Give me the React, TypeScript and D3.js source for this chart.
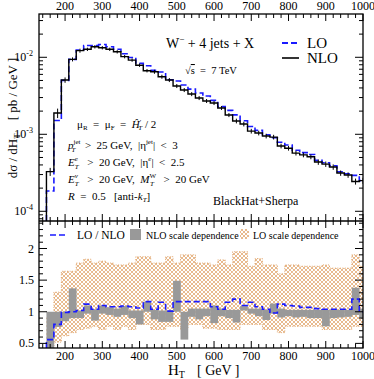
import React from 'react';
import * as d3 from 'd3';

// bins: 20 GeV wide starting at 150 GeV (the last one is clipped at 1000)
const binEdges = d3.range(150, 1011, 20);

// NLO dσ/dHT [pb/GeV], one value per bin
const nlo = [
  3.27e-4, 1.89e-3, 5.07e-3, 9.4e-3, 1.22e-2, 1.27e-2, 1.37e-2, 1.33e-2, 1.27e-2, 1.18e-2,
  1.02e-2, 9.2e-3, 7.9e-3, 6.7e-3, 6.5e-3, 5.6e-3, 5.07e-3, 4.24e-3, 3.76e-3, 3.33e-3,
  2.96e-3, 2.71e-3, 2.55e-3, 2.2e-3, 1.78e-3, 1.49e-3, 1.36e-3, 1.1e-3, 1.04e-3, 9.5e-4,
  9.2e-4, 7.05e-4, 6.6e-4, 5.7e-4, 5.4e-4, 5.1e-4, 4.36e-4, 4.1e-4, 3.76e-4, 3.14e-4,
  2.96e-4, 2.44e-4, 2.5e-4,
];
// relative statistical error of NLO
const nloErr = [
  0.12, 0.14, 0.08, 0.06, 0.06, 0.05, 0.05, 0.05, 0.05, 0.05,
  0.05, 0.05, 0.05, 0.05, 0.06, 0.06, 0.06, 0.06, 0.06, 0.06,
  0.06, 0.06, 0.06, 0.06, 0.06, 0.07, 0.07, 0.07, 0.07, 0.07,
  0.07, 0.07, 0.07, 0.07, 0.07, 0.07, 0.08, 0.08, 0.08, 0.08,
  0.08, 0.09, 0.09,
];
// LO / NLO ratio
const loOverNlo = [
  0.56, 0.8, 0.99, 1.0, 1.02, 1.12, 1.04, 1.1, 1.08, 1.08,
  1.09, 1.08, 1.06, 1.16, 1.04, 1.15, 1.01, 1.16, 1.16, 1.16,
  1.16, 1.16, 1.08, 1.04, 1.15, 1.2, 1.1, 1.15, 1.08, 1.04,
  0.98, 1.12, 1.1, 1.09, 1.07, 1.07, 1.05, 1.04, 1.04, 1.04,
  1.04, 1.2, 1.0,
];
// NLO scale dependence band (normalised to NLO)
const nloBandLo = [
  0.4, 0.76, 0.85, 0.9, 0.9, 0.97, 0.86, 0.97, 0.95, 0.92,
  0.95, 0.9, 0.8, 1.0, 0.88, 0.84, 0.84, 1.0, 0.56, 0.92,
  0.88, 0.93, 0.82, 0.93, 0.9, 0.83, 1.02, 0.97, 0.93, 0.87,
  0.97, 0.91, 0.93, 0.91, 0.92, 0.9, 0.9, 0.77, 0.9, 0.91,
  0.92, 0.95, 0.9,
];
const nloBandHi = [
  1.0, 1.0, 1.0, 1.37, 1.02, 1.1, 1.04, 1.1, 1.07, 1.05,
  1.09, 1.02, 1.02, 1.16, 1.03, 1.02, 1.02, 1.49, 1.0, 1.05,
  1.05, 1.05, 1.1, 1.05, 1.03, 1.03, 1.09, 1.05, 1.05, 1.03,
  1.13, 1.05, 1.03, 1.03, 1.03, 1.03, 1.03, 1.03, 1.03, 1.03,
  1.03, 1.38, 1.05,
];
// LO scale dependence band (normalised to NLO)
const loBandLo = [
  0.3, 0.52, 0.62, 0.67, 0.72, 0.74, 0.77, 0.72, 0.77, 0.72,
  0.77, 0.72, 0.8, 0.8, 0.72, 0.72, 0.77, 0.77, 0.72, 0.8,
  0.8, 0.74, 0.74, 0.72, 0.72, 0.72, 0.8, 0.8, 0.8, 0.72,
  0.72, 0.67, 0.77, 0.77, 0.77, 0.77, 0.77, 0.72, 0.72, 0.72,
  0.72, 0.77, 0.77,
];
const loBandHi = [
  0.9, 1.31, 1.64, 1.64, 1.77, 1.83, 1.77, 1.8, 1.77, 1.74,
  1.74, 1.77, 1.87, 1.87, 1.77, 1.77, 1.87, 1.77, 1.9, 1.9,
  1.77, 1.77, 1.74, 1.82, 1.74, 1.95, 1.95, 1.72, 1.84, 1.74,
  1.74, 1.6, 1.74, 1.74, 1.72, 1.72, 1.72, 1.74, 1.69, 1.69,
  1.69, 1.9, 1.72,
];

const xMajor = [200, 300, 400, 500, 600, 700, 800, 900, 1000];
const ratioMajor = [0.5, 1, 1.5, 2];
const logMajor = [-4, -3, -2];

const W = 374;
const H = 379;
const L = 39;
const R = 363;
const T = 14;
const M = 221;
const B = 348;

const blue = '#1a1aff';
const orange = '#dc9550';
const gray = '#999999';
const font = 'Liberation Serif, DejaVu Serif, serif';
const s = '\u00a0';

const x = d3.scaleLinear().domain([130, 1000]).range([L, R]);
const yUp = d3.scaleLog().domain([7.48e-5, 0.0365]).range([M, T]);
const yLo = d3.scaleLinear().domain([0.427, 2.435]).range([B, M]);

const bins = nlo.map((v, i) => ({
  x0: binEdges[i],
  x1: binEdges[i + 1],
  nlo: v,
  err: nloErr[i],
  lo: v * loOverNlo[i],
  nLo: nloBandLo[i],
  nHi: nloBandHi[i],
  lLo: loBandLo[i],
  lHi: loBandHi[i],
}));

function stepPath(vals: number[], ys: (v: number) => number, base?: number) {
  const pts: [number, number][] = [];
  if (base !== undefined) pts.push([x(binEdges[0]), base]);
  vals.forEach((v, i) => {
    pts.push([x(binEdges[i]), ys(v)]);
    pts.push([x(binEdges[i + 1]), ys(v)]);
  });
  return d3.line()(pts) || '';
}

export default function App() {
  const xMinor = d3.range(140, 1001, 20).filter((v) => !xMajor.includes(v));
  const upTicks = yUp.ticks();
  const loMinor = d3.range(0.5, 2.45, 0.1).map((v) => +v.toFixed(1)).filter((v) => !ratioMajor.includes(v));
  const tickStroke = { stroke: '#000', strokeWidth: 1 };

  return (
    <svg width={W} height={H} style={{ position: 'absolute', left: 0, top: 0, background: '#fff' }} fontFamily={font}>
      <defs>
        <clipPath id="cUp"><rect x={L} y={T} width={R - L} height={M - T} /></clipPath>
        <clipPath id="cLo"><rect x={L} y={M} width={R - L} height={B - M} /></clipPath>
        <pattern id="hatch" width={4} height={4} patternUnits="userSpaceOnUse">
          <path d="M0,0L4,4M4,0L0,4" stroke={orange} strokeWidth={0.65} />
        </pattern>
      </defs>

      {/* upper panel curves */}
      <g clipPath="url(#cUp)">
        <path d={stepPath(bins.map((b) => b.lo), yUp, M)} fill="none" stroke={blue} strokeWidth={1.6} strokeDasharray="6,3" />
        <path d={stepPath(nlo, yUp, M)} fill="none" stroke="#000" strokeWidth={1.4} />
        {bins.map((b, i) => (
          <line key={i} x1={x((b.x0 + b.x1) / 2)} x2={x((b.x0 + b.x1) / 2)}
            y1={yUp(b.nlo * (1 - b.err))} y2={yUp(b.nlo * (1 + b.err))} stroke="#000" strokeWidth={1} />
        ))}
      </g>

      {/* lower panel */}
      <g clipPath="url(#cLo)">
        {bins.map((b, i) => (
          <rect key={'h' + i} x={x(b.x0)} width={x(b.x1) - x(b.x0)} y={yLo(b.lHi)} height={yLo(b.lLo) - yLo(b.lHi)} fill="url(#hatch)" />
        ))}
        <path d={stepPath(loBandHi, yLo)} fill="none" stroke={orange} strokeWidth={0.8} strokeDasharray="1,1.5" />
        <path d={stepPath(loBandLo, yLo)} fill="none" stroke={orange} strokeWidth={0.8} strokeDasharray="1,1.5" />
        {bins.map((b, i) => (
          <rect key={'g' + i} x={x(b.x0)} width={x(b.x1) - x(b.x0) + 0.3} y={yLo(b.nHi)} height={yLo(b.nLo) - yLo(b.nHi)} fill={gray} />
        ))}
        <path d={stepPath(loOverNlo, yLo, B)} fill="none" stroke={blue} strokeWidth={1.6} strokeDasharray="6,3" />
      </g>

      {/* frames */}
      <rect x={L} y={T} width={R - L} height={B - T} fill="none" stroke="#000" strokeWidth={1.3} />
      <line x1={L} x2={R} y1={M} y2={M} stroke="#000" strokeWidth={1.3} />

      {/* x ticks */}
      {xMajor.map((v) => (
        <g key={'xm' + v} {...tickStroke}>
          <line x1={x(v)} x2={x(v)} y1={T} y2={T + 7} />
          <line x1={x(v)} x2={x(v)} y1={M - 7} y2={M + 7} />
          <line x1={x(v)} x2={x(v)} y1={B} y2={B - 7} />
        </g>
      ))}
      {xMinor.map((v) => (
        <g key={'xn' + v} {...tickStroke}>
          <line x1={x(v)} x2={x(v)} y1={T} y2={T + 4} />
          <line x1={x(v)} x2={x(v)} y1={M - 4} y2={M + 4} />
          <line x1={x(v)} x2={x(v)} y1={B} y2={B - 4} />
        </g>
      ))}
      {xMajor.map((v) => (
        <g key={'xl' + v} fontSize={12} textAnchor="middle">
          <text x={x(v)} y={10}>{v}</text>
          <text x={x(v)} y={360}>{v}</text>
        </g>
      ))}

      {/* upper y ticks */}
      {upTicks.map((v, i) => {
        const major = Number.isInteger(Math.round(Math.log10(v) * 1000) / 1000);
        const len = major ? 8 : 4;
        return (
          <g key={'yu' + i} {...tickStroke}>
            <line x1={L} x2={L + len} y1={yUp(v)} y2={yUp(v)} />
            <line x1={R} x2={R - len} y1={yUp(v)} y2={yUp(v)} />
          </g>
        );
      })}
      {logMajor.map((e) => (
        <text key={'yl' + e} x={33} y={yUp(Math.pow(10, e)) + 4} fontSize={12} textAnchor="end">
          10<tspan dy={-5} fontSize={8}>{e}</tspan>
        </text>
      ))}

      {/* lower y ticks */}
      {ratioMajor.map((v) => (
        <g key={'rm' + v}>
          <line x1={L} x2={L + 8} y1={yLo(v)} y2={yLo(v)} {...tickStroke} />
          <line x1={R} x2={R - 8} y1={yLo(v)} y2={yLo(v)} {...tickStroke} />
          <text x={34} y={yLo(v) + 4} fontSize={12} textAnchor="end">{v}</text>
        </g>
      ))}
      {loMinor.map((v) => (
        <g key={'rn' + v} {...tickStroke}>
          <line x1={L} x2={L + 4} y1={yLo(v)} y2={yLo(v)} />
          <line x1={R} x2={R - 4} y1={yLo(v)} y2={yLo(v)} />
        </g>
      ))}

      {/* axis titles */}
      <text x={168} y={375} fontSize={15}>H<tspan dy={3} fontSize={10}>T</tspan></text>
      <text x={197} y={375} fontSize={14}>[ GeV ]</text>
      <text transform="translate(17,118) rotate(-90)" textAnchor="middle" fontSize={13}>
        dσ / dH<tspan dy={3} fontSize={9}>T</tspan><tspan dy={-3}>{'\u2003[ pb / GeV ]'}</tspan>
      </text>

      {/* upper annotations */}
      <text x={166} y={48} fontSize={14}>
        W<tspan dy={-6} fontSize={9}>−</tspan><tspan dy={6}> + 4 jets + X</tspan>
      </text>
      <text x={185} y={74} fontSize={10.5}>
        √<tspan style={{ textDecoration: 'overline' }}>s</tspan>{`${s}${s}=${s}${s}7 TeV`}
      </text>
      <line x1={282} x2={299} y1={43} y2={43} stroke={blue} strokeWidth={1.8} strokeDasharray="6,3" />
      <text x={307} y={48} fontSize={15}>LO</text>
      <line x1={282} x2={299} y1={58} y2={58} stroke="#000" strokeWidth={1.6} />
      <text x={307} y={63} fontSize={15}>NLO</text>

      <g fontSize={11}>
        <text x={77} y={128}>
          μ<tspan dy={2} fontSize={7}>R</tspan><tspan dy={-2}>{`${s}${s}=${s}${s}μ`}</tspan><tspan dy={2} fontSize={7}>F</tspan>
          <tspan dy={-2}>{`${s}${s}=${s}${s}`}</tspan><tspan fontStyle="italic">Ĥ</tspan><tspan dy={-4} fontSize={7}>′</tspan>
          <tspan dy={6} dx={-3} fontSize={7} fontStyle="italic">T</tspan><tspan dy={-2}>{`${s}/${s}2`}</tspan>
        </text>
        <text x={68} y={149}>
          <tspan fontStyle="italic">p</tspan><tspan dy={-5} fontSize={7}>jet</tspan>
          <tspan dx={-9} dy={8} fontSize={7} fontStyle="italic">T</tspan>
          <tspan dx={4} dy={-3}>{`${s}${s}>${s}${s}25 GeV,${s}${s}|η`}</tspan><tspan dy={-5} fontSize={7}>jet</tspan>
          <tspan dy={5}>{`|${s}${s}<${s}${s}3`}</tspan>
        </text>
        <text x={68} y={166}>
          <tspan fontStyle="italic">E</tspan><tspan dy={-5} fontSize={7} fontStyle="italic">e</tspan>
          <tspan dx={-3} dy={8} fontSize={7} fontStyle="italic">T</tspan>
          <tspan dx={3} dy={-3}>{`${s}${s}>${s}${s}20 GeV,${s}${s}|η`}</tspan><tspan dy={-5} fontSize={7} fontStyle="italic">e</tspan>
          <tspan dy={5}>{`|${s}${s}<${s}${s}2.5`}</tspan>
        </text>
        <text x={68} y={183}>
          <tspan fontStyle="italic">E</tspan><tspan dy={-5} fontSize={7} fontStyle="italic">ν</tspan>
          <tspan dx={-3} dy={8} fontSize={7} fontStyle="italic">T</tspan>
          <tspan dx={3} dy={-3}>{`${s}${s}>${s}${s}20 GeV,${s}${s}`}</tspan><tspan fontStyle="italic">M</tspan>
          <tspan dy={-5} fontSize={7}>W</tspan><tspan dx={-6} dy={8} fontSize={7} fontStyle="italic">T</tspan>
          <tspan dx={4} dy={-3}>{`${s}${s}>${s}${s}20 GeV`}</tspan>
        </text>
        <text x={68} y={200}>
          <tspan fontStyle="italic">R</tspan>{`${s}${s}=${s}${s}0.5${s}${s}${s}[anti-`}<tspan fontStyle="italic">k</tspan>
          <tspan dy={2} fontSize={7} fontStyle="italic">T</tspan><tspan dy={-2}>]</tspan>
        </text>
      </g>
      <text x={213} y={205} fontSize={12}>BlackHat+Sherpa</text>

      {/* lower legend */}
      <line x1={50} x2={67} y1={235} y2={235} stroke={blue} strokeWidth={1.6} strokeDasharray="6,3" />
      <text x={77} y={239} fontSize={11.5}>LO / NLO</text>
      <rect x={130} y={229} width={11} height={11} fill={gray} />
      <text x={146} y={239} fontSize={10}>NLO scale dependence</text>
      <rect x={240} y={229} width={9} height={10} fill="url(#hatch)" />
      <text x={253} y={239} fontSize={10}>LO scale dependence</text>
    </svg>
  );
}
